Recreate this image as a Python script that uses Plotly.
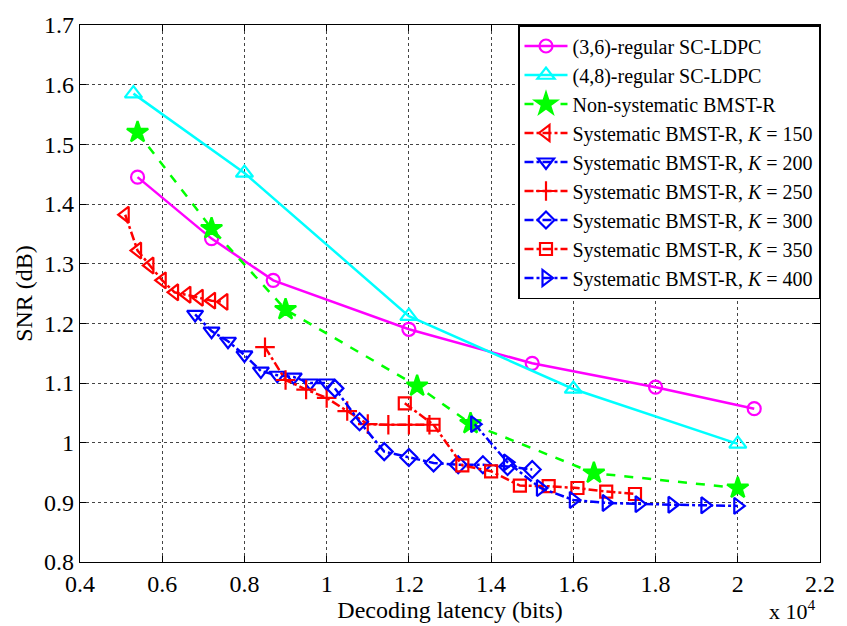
import plotly.graph_objects as go

# ---- data (x in bits, y in dB) ----
sc36_x = [5400, 7200, 8700, 12000, 15000, 18000, 20400]
sc36_y = [1.445, 1.342, 1.272, 1.190, 1.133, 1.093, 1.057]

sc48_x = [5300, 8000, 12000, 16000, 20000]
sc48_y = [1.585, 1.452, 1.212, 1.090, 0.998]

nonsys_x = [5400, 7200, 9000, 12200, 13500, 16500, 20000]
nonsys_y = [1.520, 1.359, 1.223, 1.095, 1.032, 0.949, 0.924]

k150_x = [5100, 5400, 5700, 6000, 6300, 6600, 6900, 7200, 7500]
k150_y = [1.382, 1.322, 1.297, 1.272, 1.252, 1.248, 1.243, 1.238, 1.236]

k200_x = [6800, 7200, 7600, 8000, 8400, 8800, 9200, 9600, 10000]
k200_y = [1.215, 1.187, 1.170, 1.147, 1.120, 1.113, 1.110, 1.100, 1.100]

k250_x = [8500, 9000, 9500, 10000, 10500, 11000, 11500, 12000, 12500]
k250_y = [1.160, 1.105, 1.089, 1.075, 1.053, 1.031, 1.030, 1.030, 1.030]

k300_x = [10200, 10800, 11400, 12000, 12600, 13200, 13800, 14400, 15000]
k300_y = [1.091, 1.035, 0.985, 0.975, 0.966, 0.963, 0.963, 0.960, 0.955]

k350_x = [11900, 12600, 13300, 14000, 14700, 15400, 16100, 16800, 17500]
k350_y = [1.066, 1.030, 0.962, 0.952, 0.928, 0.927, 0.924, 0.918, 0.914]

k400_x = [13600, 14400, 15200, 16000, 16800, 17600, 18400, 19200, 20000]
k400_y = [1.031, 0.967, 0.924, 0.904, 0.899, 0.897, 0.896, 0.895, 0.894]

x_ticks = [4000, 6000, 8000, 10000, 12000, 14000, 16000, 18000, 20000, 22000]
x_tick_labels = ["0.4", "0.6", "0.8", "1", "1.2", "1.4", "1.6", "1.8", "2", "2.2"]
y_ticks = [0.8, 0.9, 1.0, 1.1, 1.2, 1.3, 1.4, 1.5, 1.6, 1.7]
y_tick_labels = ["0.8", "0.9", "1", "1.1", "1.2", "1.3", "1.4", "1.5", "1.6", "1.7"]

FONT = "Liberation Serif, Times New Roman, serif"

series = [
    ("(3,6)-regular SC-LDPC", sc36_x, sc36_y, "#ff00ff", "solid", "circle-open", 13),
    ("(4,8)-regular SC-LDPC", sc48_x, sc48_y, "#00ffff", "solid", "triangle-up-open", 15),
    ("Non-systematic BMST-R", nonsys_x, nonsys_y, "#00ff00", "dash", "star", 16),
    ("Systematic BMST-R, <i>K</i> = 150", k150_x, k150_y, "#ff0000", "dashdot", "triangle-left-open", 14),
    ("Systematic BMST-R, <i>K</i> = 200", k200_x, k200_y, "#0000ff", "dashdot", "triangle-down-open", 14),
    ("Systematic BMST-R, <i>K</i> = 250", k250_x, k250_y, "#ff0000", "dashdot", "cross-thin-open", 14),
    ("Systematic BMST-R, <i>K</i> = 300", k300_x, k300_y, "#0000ff", "dashdot", "diamond-open", 13),
    ("Systematic BMST-R, <i>K</i> = 350", k350_x, k350_y, "#ff0000", "dashdot", "square-open", 12),
    ("Systematic BMST-R, <i>K</i> = 400", k400_x, k400_y, "#0000ff", "dashdot", "triangle-right-open", 14),
]

fig = go.Figure()
for name, xs, ys, col, dash, sym, size in series:
    fig.add_trace(go.Scatter(
        x=xs, y=ys, name=name, mode="lines+markers",
        line=dict(color=col, width=2.5, dash=dash),
        marker=dict(symbol=sym, size=size, color=col,
                    line=dict(color=col, width=2.2)),
    ))

axis_common = dict(
    showline=True, linecolor="black", linewidth=1.3, mirror="ticks",
    ticks="inside", ticklen=6, tickcolor="black",
    showgrid=True, gridcolor="#444444", gridwidth=1, griddash="dot",
    zeroline=False, tickfont=dict(family=FONT, size=24, color="black"),
)

fig.update_xaxes(range=[4000, 22000], tickvals=x_ticks, ticktext=x_tick_labels,
                 title=dict(text="Decoding latency (bits)", font=dict(family=FONT, size=24, color="black"),
                            standoff=0),
                 **axis_common)
fig.update_yaxes(range=[0.8, 1.7], tickvals=y_ticks, ticktext=y_tick_labels,
                 title=dict(text="SNR (dB)", font=dict(family=FONT, size=24, color="black"),
                            standoff=4),
                 **axis_common)

fig.add_annotation(xref="paper", yref="paper", x=0.928, y=-0.119, xanchor="left", yanchor="bottom",
                   text="x 10<sup>4</sup>", showarrow=False,
                   font=dict(family=FONT, size=22, color="black"))

fig.update_layout(
    width=847, height=626,
    margin=dict(l=80, r=19, t=14, b=63),
    paper_bgcolor="white", plot_bgcolor="white",
    font=dict(family=FONT, color="black"),
    legend=dict(x=1, xanchor="right", y=1.0, yanchor="top",
                bgcolor="white", bordercolor="black", borderwidth=1.5,
                font=dict(family=FONT, size=20, color="black"),
                tracegroupgap=0, itemwidth=43),
    showlegend=True,
)

fig.write_html("out.html")
